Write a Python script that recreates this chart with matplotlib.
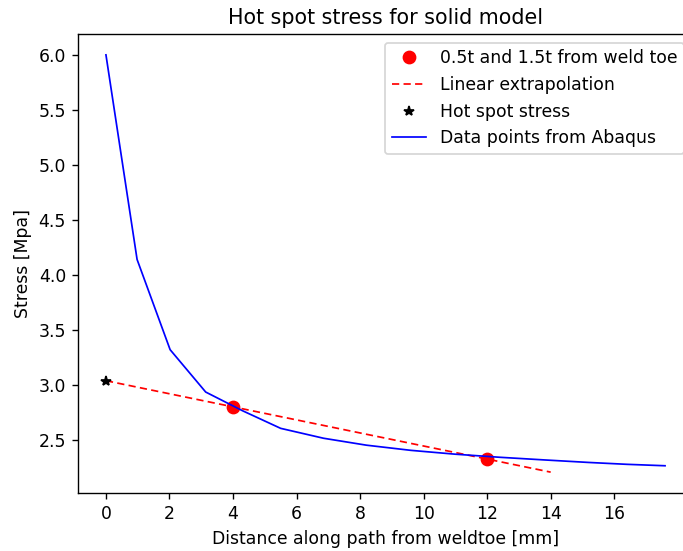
import matplotlib
matplotlib.use("Agg")
import matplotlib.pyplot as plt

# Abaqus path data
dist = [0.0, 0.98, 2.02, 3.14, 4.3, 5.5, 6.85, 8.2, 9.6, 11.0, 12.4, 13.8, 15.2, 16.4, 17.6]
stress = [6.0, 4.14, 3.32, 2.935, 2.765, 2.605, 2.515, 2.452, 2.405, 2.37, 2.342, 2.318, 2.295, 2.278, 2.265]

# read-out points at 0.5t and 1.5t
pts_x = [4, 12]
pts_y = [2.80, 2.325]

# linear extrapolation
ext_x = [0, 14]
ext_y = [3.038, 2.207]

# hot spot stress
hs_x = [0]
hs_y = [3.038]

DPI = 124
fig = plt.figure(figsize=(683 / DPI, 551 / DPI), dpi=DPI)
ax = fig.add_axes([78/683, 58/551, 615/683, 459/551])

ax.plot(pts_x, pts_y, 'ro', markersize=7, label='0.5t and 1.5t from weld toe')
ax.plot(ext_x, ext_y, 'r--', linewidth=1.0, dashes=(4.2, 2.5), label='Linear extrapolation')
ax.plot(hs_x, hs_y, 'k*', markersize=5.5, label='Hot spot stress')
ax.plot(dist, stress, 'b-', linewidth=1.0, label='Data points from Abaqus')

ax.set_xticks(range(0, 17, 2))
ax.set_title('Hot spot stress for solid model')
ax.set_xlabel('Distance along path from weldtoe [mm]')
ax.set_ylabel('Stress [Mpa]')
ax.legend(loc='upper right')

fig.savefig('out.png', dpi=DPI)
